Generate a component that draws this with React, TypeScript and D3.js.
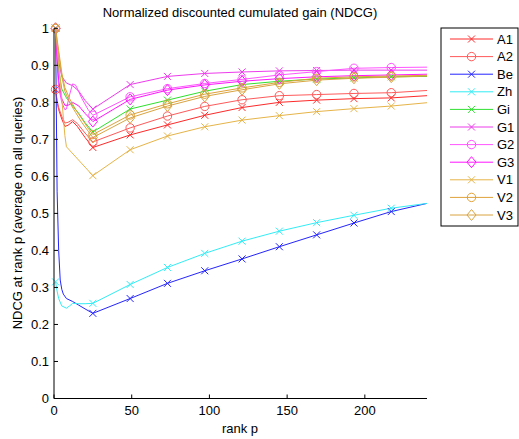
import React from "react";
import * as d3 from "d3";

const W = 519;
const H = 439;

const seriesNames = ["A1", "A2", "Be", "Zh", "Gi", "G1", "G2", "G3", "V1", "V2", "V3"];
const seriesColors = ["#ff2a2a", "#ff5a5a", "#2424ff", "#33ecf5", "#2fe02f", "#ec3cec", "#ff55ff", "#ff14ff", "#e6b448", "#dea23a", "#d9a440"];
const seriesMarkers = ["x", "o", "x", "x", "x", "x", "o", "d", "x", "o", "d"];

const lateRanks = [49, 73, 97, 121, 145, 169, 193, 217, 240];
const markerRanks = [1, 25, 49, 73, 97, 121, 145, 169, 193, 217];

// early ranks (1..25) as [rank, value]
const A1_early: [number, number][] = [[1, 0.835], [2, 0.8], [3, 0.78], [5, 0.755], [7, 0.735], [9, 0.738], [12, 0.748], [15, 0.735], [20, 0.705], [25, 0.678]];
const A2_early: [number, number][] = [[1, 0.835], [2, 0.806], [3, 0.786], [5, 0.762], [7, 0.744], [9, 0.746], [12, 0.753], [15, 0.743], [20, 0.717], [25, 0.693]];
const Be_early: [number, number][] = [[1, 1.0], [2, 0.56], [3, 0.4], [4, 0.32], [5, 0.295], [6, 0.282], [8, 0.27], [12, 0.262], [16, 0.252], [20, 0.242], [25, 0.23]];
const Zh_early: [number, number][] = [[1, 0.315], [2, 0.29], [3, 0.27], [5, 0.25], [8, 0.244], [10, 0.25], [12, 0.257], [16, 0.256], [20, 0.256], [25, 0.257]];
const Gi_early: [number, number][] = [[1, 1.0], [2, 0.94], [3, 0.89], [5, 0.836], [8, 0.812], [12, 0.79], [16, 0.77], [20, 0.745], [25, 0.72]];
const G1_early: [number, number][] = [[1, 1.0], [2, 0.95], [3, 0.91], [5, 0.87], [8, 0.852], [12, 0.845], [16, 0.83], [20, 0.805], [25, 0.782]];
const G2_early: [number, number][] = [[1, 1.0], [2, 0.9], [3, 0.84], [5, 0.8], [7, 0.78], [8, 0.782], [10, 0.82], [12, 0.85], [14, 0.846], [18, 0.81], [22, 0.78], [25, 0.765]];
const G3_early: [number, number][] = [[1, 1.0], [2, 0.92], [3, 0.86], [5, 0.81], [7, 0.792], [9, 0.792], [12, 0.8], [16, 0.79], [20, 0.77], [25, 0.748]];
const V1_early: [number, number][] = [[1, 1.0], [2, 0.95], [3, 0.9], [4, 0.86], [5, 0.81], [6, 0.76], [7, 0.71], [8, 0.68], [25, 0.602]];
const V2_early: [number, number][] = [[1, 1.0], [2, 0.97], [3, 0.94], [5, 0.88], [7, 0.84], [10, 0.81], [14, 0.78], [18, 0.755], [22, 0.73], [25, 0.713]];
const V3_early: [number, number][] = [[1, 1.0], [2, 0.965], [3, 0.93], [5, 0.87], [7, 0.83], [10, 0.8], [14, 0.772], [18, 0.745], [22, 0.722], [25, 0.705]];

// values at lateRanks
const A1_late = [0.712, 0.739, 0.765, 0.786, 0.8, 0.806, 0.81, 0.812, 0.818];
const A2_late = [0.731, 0.763, 0.789, 0.807, 0.818, 0.821, 0.824, 0.826, 0.832];
const Be_late = [0.27, 0.311, 0.345, 0.377, 0.41, 0.442, 0.474, 0.505, 0.527];
const Zh_late = [0.308, 0.354, 0.392, 0.425, 0.452, 0.475, 0.495, 0.514, 0.527];
const Gi_late = [0.782, 0.806, 0.83, 0.848, 0.857, 0.863, 0.866, 0.869, 0.87];
const G1_late = [0.848, 0.87, 0.878, 0.882, 0.885, 0.886, 0.887, 0.887, 0.887];
const G2_late = [0.815, 0.837, 0.851, 0.862, 0.874, 0.883, 0.892, 0.894, 0.895];
const G3_late = [0.808, 0.833, 0.847, 0.857, 0.864, 0.869, 0.872, 0.874, 0.876];
const V1_late = [0.672, 0.709, 0.734, 0.752, 0.764, 0.775, 0.783, 0.79, 0.799];
const V2_late = [0.766, 0.796, 0.822, 0.839, 0.854, 0.865, 0.869, 0.871, 0.873];
const V3_late = [0.758, 0.79, 0.816, 0.834, 0.85, 0.86, 0.865, 0.868, 0.871];

const earlyData = [A1_early, A2_early, Be_early, Zh_early, Gi_early, G1_early, G2_early, G3_early, V1_early, V2_early, V3_early];
const lateData = [A1_late, A2_late, Be_late, Zh_late, Gi_late, G1_late, G2_late, G3_late, V1_late, V2_late, V3_late];

const xTicks = [0, 50, 100, 150, 200];
const yTicks = [0, 0.1, 0.2, 0.3, 0.4, 0.5, 0.6, 0.7, 0.8, 0.9, 1];

const title = "Normalized discounted cumulated gain (NDCG)";
const xLabel = "rank p";
const yLabel = "NDCG at rank p (average on all queries)";

const FONT = "'Liberation Sans', Arial, Helvetica, sans-serif";

function Marker({ type, cx, cy, color }: { type: string; cx: number; cy: number; color: string }) {
  if (type === "x") {
    const s = 3.5;
    return (
      <path d={`M${cx - s},${cy - s}L${cx + s},${cy + s}M${cx - s},${cy + s}L${cx + s},${cy - s}`} stroke={color} strokeWidth={1} fill="none" />
    );
  }
  if (type === "o") {
    return <circle cx={cx} cy={cy} r={4.2} stroke={color} strokeWidth={1} fill="none" />;
  }
  const a = 4.5;
  const b = 5.5;
  return <path d={`M${cx},${cy - b}L${cx + a},${cy}L${cx},${cy + b}L${cx - a},${cy}Z`} stroke={color} strokeWidth={1} fill="none" />;
}

export default function App() {
  const x = d3.scaleLinear().domain([0, 240]).range([54, 427]);
  const y = d3.scaleLinear().domain([0, 1]).range([398.5, 28.3]);

  const series = seriesNames.map((name, i) => {
    const pts: [number, number][] = [...earlyData[i], ...lateRanks.map((r, j) => [r, lateData[i][j]] as [number, number])];
    return { name, color: seriesColors[i], marker: seriesMarkers[i], pts };
  });

  const line = d3
    .line<[number, number]>()
    .x((d) => x(d[0]))
    .y((d) => y(d[1]));

  const legX = 441;
  const legY = 28;
  const legW = 77;
  const legRow = 17.6;
  const legH = 198;

  return (
    <svg width={W} height={H} style={{ position: "absolute", left: 0, top: 0, background: "#fff" }} fontFamily={FONT}>
      <rect x={0} y={0} width={W} height={H} fill="#fff" />
      {/* series lines */}
      {series.map((s) => (
        <path key={s.name} d={line(s.pts) || ""} stroke={s.color} strokeWidth={1} fill="none" />
      ))}
      {/* markers */}
      {series.map((s) =>
        markerRanks.map((r) => {
          const p = s.pts.find((d) => d[0] === r);
          if (!p) return null;
          return <Marker key={s.name + r} type={s.marker} cx={x(p[0])} cy={y(p[1])} color={s.color} />;
        })
      )}
      {/* axes */}
      <line x1={54} y1={y(0)} x2={427} y2={y(0)} stroke="#000" strokeWidth={1} />
      <line x1={54} y1={y(0)} x2={54} y2={y(1)} stroke="#000" strokeWidth={1} />
      {xTicks.map((t) => (
        <g key={"xt" + t}>
          <line x1={x(t)} x2={x(t)} y1={y(0)} y2={y(0) - 4} stroke="#000" />
          <text x={x(t)} y={y(0) + 16} fontSize={13} textAnchor="middle">
            {t}
          </text>
        </g>
      ))}
      {yTicks.map((t) => (
        <g key={"yt" + t}>
          <line x1={54} x2={58} y1={y(t)} y2={y(t)} stroke="#000" />
          <text x={49} y={y(t) + 4.5} fontSize={13} textAnchor="end">
            {d3.format("~g")(t)}
          </text>
        </g>
      ))}
      <text x={240} y={17} fontSize={13} textAnchor="middle">
        {title}
      </text>
      <text x={240} y={433} fontSize={13} textAnchor="middle">
        {xLabel}
      </text>
      <text transform={`translate(22,${213}) rotate(-90)`} fontSize={13} textAnchor="middle">
        {yLabel}
      </text>
      {/* legend */}
      <rect x={legX} y={legY} width={legW} height={legH} fill="#fff" stroke="#000" strokeWidth={1} />
      {series.map((s, i) => {
        const cy = legY + 11 + i * legRow;
        return (
          <g key={"leg" + s.name}>
            <line x1={450} x2={493} y1={cy} y2={cy} stroke={s.color} strokeWidth={1} />
            <Marker type={s.marker} cx={471.5} cy={cy} color={s.color} />
            <text x={497} y={cy + 4.5} fontSize={13}>
              {s.name}
            </text>
          </g>
        );
      })}
    </svg>
  );
}
